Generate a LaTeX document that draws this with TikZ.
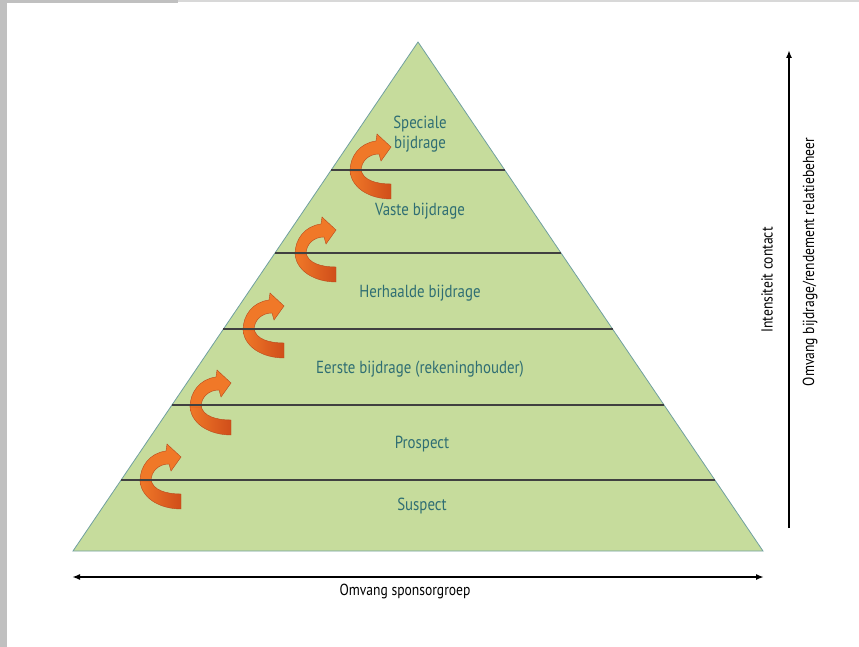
\documentclass[tikz,border=0pt]{standalone}
\usepackage{fontspec}
\setmainfont{PT Sans}[FakeStretch=0.85]
\usetikzlibrary{arrows.meta,positioning}
\definecolor{pyrgreen}{RGB}{198,220,156}
\definecolor{pyredge}{RGB}{112,160,160}
\definecolor{levtext}{RGB}{47,110,115}
\definecolor{curllight}{RGB}{240,120,40}
\definecolor{curldark}{RGB}{208,78,26}
\definecolor{curledge}{RGB}{185,72,28}
\definecolor{framegray}{RGB}{192,192,192}
\definecolor{framelight}{RGB}{216,216,216}

% orange step arrow, #1,#2 = left point on the tier line
\newcommand{\upcurl}[2]{%
  \begin{scope}[shift={(#1,#2)}]
    \shade[left color=curllight, right color=curldark, draw=curledge, line width=0.4pt]
      (0,-1) .. controls (0,18) and (20,29) .. (41,29) -- (41,14)
      .. controls (26,14) and (12,10) .. (11,-1) -- cycle;
    \fill[curllight, draw=curledge, line width=0.4pt]
      (0,1) .. controls (0,-14) and (10,-27) .. (26,-29) -- (27,-36) -- (41,-23)
      -- (31,-9) -- (29,-16) .. controls (19,-16) and (11,-9) .. (11,1) -- cycle;
  \end{scope}}

\begin{document}
\begin{tikzpicture}[
  x=1pt, y=-1pt,
  level/.style={font=\fontsize{17.5}{20}\selectfont, text=levtext, align=center, inner sep=0pt},
  axislabel/.style={font=\fontsize{16}{18}\selectfont, inner sep=0pt},
  tier/.style={draw=black!75, line width=1.2pt},
  axis/.style={-{Latex[length=8pt,width=6pt]}, line width=1.6pt}
]
\useasboundingbox (0,0) rectangle (859,647);

% Frame
\fill[framelight] (178,0) rectangle (859,2);
\fill[framegray] (0,0) rectangle (178,3.5);
\fill[framegray] (0,0) rectangle (7,647);

% Pyramid
\coordinate (apex) at (418,42);
\coordinate (baseL) at (73,551);
\coordinate (baseR) at (763,551);
\fill[pyrgreen, draw=pyredge, line width=0.8pt] (apex) -- (baseR) -- (baseL) -- cycle;

% Step arrows
\upcurl{140}{480}
\upcurl{190}{406}
\upcurl{243}{329}
\upcurl{295}{253}
\upcurl{350}{170}

% Tiers
\foreach \y in {170,253,329,405,480} {
  \pgfmathsetmacro{\dx}{0.6778*(\y-42)}
  \draw[tier] (418-\dx,\y) -- (418+\dx,\y);
}

% Levels
\node[level] (speciale) at (420,134) {Speciale\\bijdrage};
\node[level] (vaste) at (420,211) {Vaste bijdrage};
\node[level] (herhaalde) at (420,293) {Herhaalde bijdrage};
\node[level] (eerste) at (420,369) {Eerste bijdrage (rekeninghouder)};
\node[level] (prospect) at (422,444) {Prospect};
\node[level] (suspect) at (422,506) {Suspect};

% Axes
\coordinate (vlow) at (789,528);
\coordinate (vtop) at (789,50);
\draw[axis] (vlow) -- (vtop);
\node[axislabel, rotate=90] (contact) at (767,280) {Intensiteit contact};
\node[axislabel, rotate=90] (omvangB) at (810,262) {Omvang bijdrage/rendement relatiebeheer};

\coordinate (hleft) at (72,577);
\coordinate (hright) at (764,577);
\draw[axis, {Latex[length=8pt,width=6pt]}-{Latex[length=8pt,width=6pt]}] (hleft) -- (hright);
\node[axislabel] (sponsor) at (405,591) {Omvang sponsorgroep};

\end{tikzpicture}
\end{document}
